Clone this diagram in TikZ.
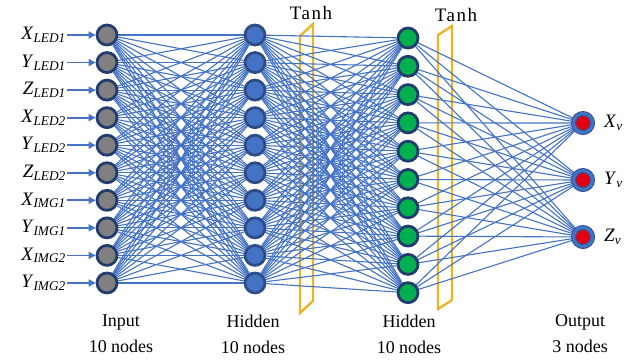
\documentclass[tikz,border=0pt]{standalone}
\usepackage{fontspec}
\setmainfont{Liberation Serif}
\usetikzlibrary{backgrounds,arrows.meta}
\definecolor{edgeblue}{RGB}{68,114,196}
\definecolor{ringblue}{RGB}{35,60,110}
\definecolor{nodegray}{RGB}{128,128,128}
\definecolor{nodegreen}{RGB}{0,176,80}
\definecolor{nodered}{RGB}{225,0,20}
\definecolor{tanhgold}{RGB}{232,180,40}
\newcommand{\vlab}[2]{\textit{#1}\textsubscript{\textit{#2}}}
\tikzset{
  neuron/.style={circle, draw=ringblue, line width=2.8pt, minimum size=20pt, inner sep=0pt},
  innode/.style={neuron, fill=nodegray},
  hidnode/.style={neuron, draw=ringblue!70!edgeblue, fill=edgeblue},
  grnnode/.style={neuron, fill=nodegreen},
  outnode/.style={circle, fill=nodered, draw=ringblue!60!edgeblue, line width=1pt,
    double=edgeblue, double distance=3pt, minimum size=19pt, inner sep=0pt},
  link/.style={edgeblue, line width=1.1pt},
  feed/.style={-{Triangle[length=7pt,width=7pt]}, edgeblue, line width=1.8pt},
  tanhbox/.style={tanhgold, line width=2.4pt, line join=miter},
  txt/.style={font=\fontsize{19}{26}\selectfont, inner sep=1pt},
  layerlab/.style={font=\fontsize{18}{26}\selectfont, inner sep=1pt, align=center}
}
\begin{document}
\begin{tikzpicture}[x=1pt,y=-1pt]
\useasboundingbox (0,0) rectangle (642,360);
% input layer
\foreach \v/\s [count=\i from 0] in {X/LED1,Y/LED1,Z/LED1,X/LED2,Y/LED2,Z/LED2,X/IMG1,Y/IMG1,X/IMG2,Y/IMG2} {
  \node[innode] (i\i) at (107,35+27.55*\i) {};
  \node[txt, anchor=east] (l\i) at (67,35+27.55*\i) {\vlab{\v}{\s}};
  \draw[feed] (l\i) -- (i\i);
}
% hidden layers
\foreach \i in {0,...,9} {
  \node[hidnode] (h\i) at (255,35+27.55*\i) {};
  \node[grnnode] (g\i) at (408,38+28.3*\i) {};
}
% output layer
\foreach \v [count=\i from 0] in {X,Y,Z} {
  \node[outnode] (o\i) at (583,123+57*\i) {};
  \node[txt, anchor=west] (r\i) at (603,123+57*\i) {\vlab{\v}{v}};
}
% activation planes
\node[txt] (tanh1) at (311,13) {\addfontfeature{LetterSpace=8}Tanh};
\node[txt] (tanh2) at (456,15) {\addfontfeature{LetterSpace=8}Tanh};
\node[layerlab] (lin) at (121,334) {Input\\10 nodes};
\node[layerlab] (lh1) at (253,334) {Hidden\\10 nodes};
\node[layerlab] (lh2) at (409,334) {Hidden\\10 nodes};
\node[layerlab] (lout) at (580,334) {Output\\3 nodes};
\begin{pgfonlayer}{background}
  \draw[tanhbox] (300,36) -- (313,24) -- (313,301) -- (300,313) -- cycle;
  \draw[tanhbox] (438,35) -- (452,26) -- (452,300) -- (438,309) -- cycle;
  \foreach \a in {0,...,9} {
    \foreach \b in {0,...,9} {
      \draw[link] (i\a) -- (h\b);
      \draw[link] (h\a) -- (g\b);
    }
    \foreach \b in {0,1,2}
      \draw[link] (g\a) -- (o\b);
  }
\end{pgfonlayer}
\end{tikzpicture}
\end{document}
